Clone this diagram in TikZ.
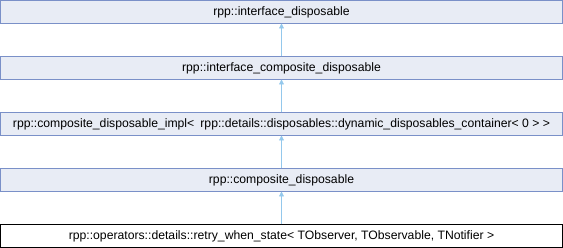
\documentclass[tikz,border=0pt]{standalone}
\usepackage{fontspec}
\setmainfont{Liberation Sans}
\usetikzlibrary{positioning,arrows.meta}
\definecolor{boxfill}{RGB}{232,236,245}
\definecolor{boxline}{RGB}{122,144,200}
\definecolor{inheritline}{RGB}{148,200,236}
\tikzset{
  classbox/.style={draw=boxline, fill=boxfill, line width=1pt, minimum width=562pt,
    minimum height=23pt, inner sep=0pt, outer sep=0pt, font=\fontsize{12.2}{14}\selectfont},
  thisbox/.style={classbox, draw=black, fill=white},
  inherit/.style={draw=inheritline, line width=0.8pt, -{Triangle[width=5pt,length=5pt]}}
}

\begin{document}
\begin{tikzpicture}[x=1pt, y=1pt, node distance=33pt]
            \useasboundingbox (0,0) rectangle (563,-248);
            \node (A) [classbox] at (281.5,-12) {rpp::interface\_disposable};
            \node (B) [classbox, below = of A] {rpp::interface\_composite\_disposable};
            \node (C) [classbox, below = of B] {rpp::composite\_disposable\_impl<\enspace rpp::details::disposables::dynamic\_disposables\_container< 0 > >};
            \node (D) [classbox, below = of C] {rpp::composite\_disposable};
            \node (E) [thisbox, below = of D] {rpp::operators::details::retry\_when\_state< TObserver, TObservable, TNotifier >};

            \foreach \child/\parent in {B/A, C/B, D/C, E/D}
                \draw[inherit] (\child) -- (\parent);
        \end{tikzpicture}
\end{document}
